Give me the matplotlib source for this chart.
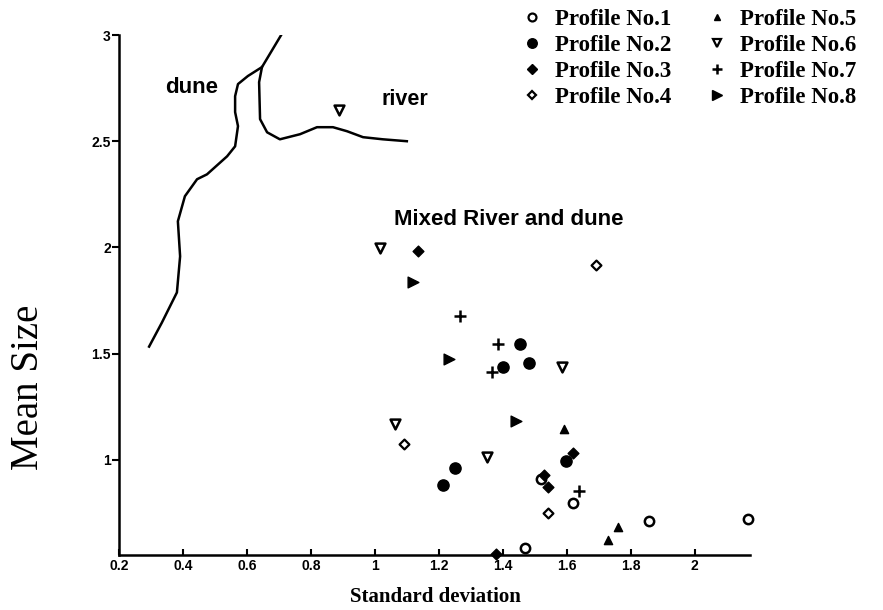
import matplotlib
matplotlib.use("Agg")
import matplotlib.pyplot as plt
from matplotlib.lines import Line2D

# mean size vs standard deviation, per profile
p1_x = [1.469, 1.519, 1.619, 1.856, 2.166]
p1_y = [0.585, 0.910, 0.797, 0.712, 0.722]
p2_x = [1.453, 1.481, 1.400, 1.250, 1.213, 1.597]
p2_y = [1.547, 1.458, 1.439, 0.962, 0.882, 0.995]
p3_x = [1.134, 1.619, 1.541, 1.528, 1.378]
p3_y = [1.981, 1.033, 0.873, 0.929, 0.557]
p4_x = [1.691, 1.091, 1.541]
p4_y = [1.915, 1.075, 0.750]
p5_x = [1.591, 1.759, 1.728]
p5_y = [1.146, 0.684, 0.623]
p6_x = [1.016, 1.584, 1.062, 1.350, 0.888]
p6_y = [1.995, 1.439, 1.170, 1.014, 2.646]
p7_x = [1.266, 1.384, 1.366, 1.638]
p7_y = [1.675, 1.547, 1.415, 0.854]
p8_x = [1.119, 1.231, 1.441]
p8_y = [1.835, 1.476, 1.184]

# boundary lines between fields
dune_x = [0.294, 0.334, 0.381, 0.391, 0.384, 0.406, 0.444, 0.475, 0.538, 0.563,
          0.572, 0.563, 0.563, 0.572, 0.603, 0.647, 0.709]
dune_y = [1.533, 1.646, 1.788, 1.958, 2.123, 2.241, 2.321, 2.344, 2.429, 2.476,
          2.571, 2.637, 2.712, 2.769, 2.807, 2.849, 3.005]
river_x = [0.647, 0.638, 0.641, 0.663, 0.703, 0.766, 0.819, 0.869, 0.913, 0.963, 1.025, 1.100]
river_y = [2.849, 2.778, 2.604, 2.542, 2.509, 2.533, 2.566, 2.566, 2.547, 2.519, 2.509, 2.500]

x_ticks = [0.2, 0.4, 0.6, 0.8, 1.0, 1.2, 1.4, 1.6, 1.8, 2.0]
x_labels = ["0.2", "0.4", "0.6", "0.8", "1", "1.2", "1.4", "1.6", "1.8", "2"]
y_ticks = [1.0, 1.5, 2.0, 2.5, 3.0]
y_labels = ["1", "1.5", "2", "2.5", "3"]
names = ["Profile No.1", "Profile No.2", "Profile No.3", "Profile No.4",
         "Profile No.5", "Profile No.6", "Profile No.7", "Profile No.8"]

fig = plt.figure(figsize=(8.83, 6.10), dpi=100)
ax = fig.add_axes([0.1348, 0.0902, 0.7142, 0.8524])

ax.plot(dune_x, dune_y, color="black", lw=1.8)
ax.plot(river_x, river_y, color="black", lw=1.8)

styles = [
    dict(marker="o", s=45, facecolors="white", edgecolors="black", linewidths=1.8),
    dict(marker="o", s=65, color="black"),
    dict(marker="D", s=30, color="black"),
    dict(marker="D", s=25, facecolors="white", edgecolors="black", linewidths=1.6),
    dict(marker="^", s=35, color="black"),
    dict(marker="v", s=50, facecolors="white", edgecolors="black", linewidths=1.8),
    dict(marker="+", s=70, color="black", linewidths=1.8),
    dict(marker=">", s=60, color="black"),
]
series = [(p1_x, p1_y), (p2_x, p2_y), (p3_x, p3_y), (p4_x, p4_y),
          (p5_x, p5_y), (p6_x, p6_y), (p7_x, p7_y), (p8_x, p8_y)]
for (xs, ys), st in zip(series, styles):
    ax.scatter(xs, ys, zorder=3, clip_on=False, **st)

ax.set_xlim(0.2, 2.172)
ax.set_ylim(0.552, 3.0)
for side in ["top", "right"]:
    ax.spines[side].set_visible(False)
for side in ["left", "bottom"]:
    ax.spines[side].set_linewidth(1.8)

ax.set_xticks(x_ticks)
ax.set_xticklabels(x_labels, fontfamily="Liberation Sans", fontweight="bold", fontsize=10)
ax.set_yticks(y_ticks)
ax.set_yticklabels(y_labels, fontfamily="Liberation Sans", fontweight="bold", fontsize=10)
ax.tick_params(axis="x", direction="in", length=4, width=1.5, pad=3)
ax.tick_params(axis="y", direction="out", length=5, width=1.5, pad=1)

ax.text(0.426, 2.755, "dune", ha="center", va="center",
        fontfamily="Liberation Sans", fontweight="bold", fontsize=16)
ax.text(1.095, 2.695, "river", ha="center", va="center",
        fontfamily="Liberation Sans", fontweight="bold", fontsize=15.5)
ax.text(1.42, 2.13, "Mixed River and dune", ha="center", va="center",
        fontfamily="Liberation Sans", fontweight="bold", fontsize=16)

fig.text(0.032, 0.365, "Mean Size", rotation=90, ha="center", va="center",
         fontfamily="Liberation Serif", fontsize=28)
fig.text(0.493, 0.021, "Standard deviation", ha="center", va="center",
         fontfamily="Liberation Serif", fontweight="bold", fontsize=15)

# legend, two columns of four
handles = []
for st in styles:
    kw = dict(marker=st["marker"], linestyle="none", markersize=st["s"] ** 0.5 * 0.85)
    if "facecolors" in st:
        kw.update(markerfacecolor="white", markeredgecolor="black", markeredgewidth=1.6)
    else:
        kw.update(color="black", markeredgewidth=st.get("linewidths", 1.0))
    handles.append(Line2D([], [], **kw))
leg = fig.legend(handles, names, ncol=2, loc="upper right", bbox_to_anchor=(0.988, 1.012),
                 frameon=False, handlelength=0.8, handletextpad=0.6, columnspacing=1.6,
                 labelspacing=0.22, borderpad=0.2,
                 prop=dict(family="Liberation Serif", weight="bold", size=16.5))

fig.savefig("out.png", dpi=100)
